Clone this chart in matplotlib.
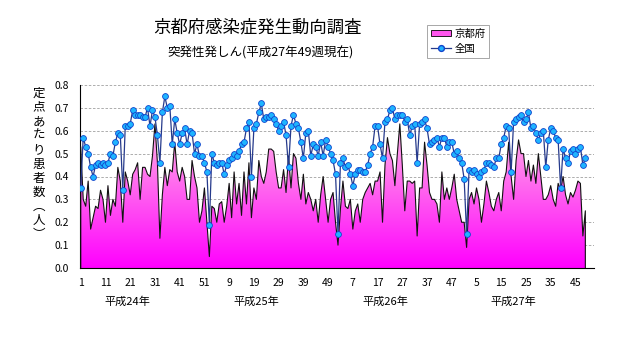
import numpy as np
import matplotlib
matplotlib.use("Agg")
import matplotlib.pyplot as plt
from matplotlib.colors import LinearSegmentedColormap
from matplotlib.patches import Patch
from matplotlib.lines import Line2D

plt.rcParams['font.family'] = ['Noto Sans CJK JP', 'DejaVu Sans']

title = "京都府感染症発生動向調査"
subtitle = "突発性発しん(平成27年49週現在)"
ylabel_chars = ["定", "点", "あ", "た", "り", "患", "者", "数", "︵", "人", "︶"]
series_names = ["京都府", "全国"]
year_labels = ["平成24年", "平成25年", "平成26年", "平成27年"]
weeks_per_year = [52, 52, 52, 49]
tick_labels = ['1', '11', '21', '31', '41', '51', '9', '19', '29', '39', '49',
               '7', '17', '27', '37', '47', '5', '15', '25', '35', '45']

national = [
    0.35, 0.57, 0.53, 0.50, 0.44, 0.40, 0.45, 0.46, 0.45, 0.46,
    0.45, 0.46, 0.50, 0.49, 0.55, 0.59, 0.58, 0.34, 0.62, 0.62,
    0.63, 0.69, 0.67, 0.67, 0.67, 0.66, 0.66, 0.70, 0.62, 0.69,
    0.66, 0.58, 0.46, 0.68, 0.75, 0.70, 0.71, 0.54, 0.65, 0.59,
    0.54, 0.59, 0.61, 0.54, 0.60, 0.59, 0.50, 0.54, 0.49, 0.49,
    0.46, 0.42, 0.19, 0.50, 0.46, 0.45, 0.46, 0.46, 0.41, 0.45,
    0.47, 0.48, 0.50, 0.49, 0.51, 0.54, 0.55, 0.61, 0.64, 0.40,
    0.61, 0.63, 0.68, 0.72, 0.65, 0.66, 0.66, 0.67, 0.65, 0.63,
    0.60, 0.62, 0.64, 0.58, 0.44, 0.62, 0.67, 0.63, 0.61, 0.55,
    0.48, 0.59, 0.60, 0.49, 0.54, 0.53, 0.49, 0.55, 0.49, 0.56,
    0.53, 0.50, 0.47, 0.41, 0.15, 0.46, 0.48, 0.44, 0.45, 0.41,
    0.36, 0.41, 0.43, 0.43, 0.42, 0.42, 0.45, 0.50, 0.53, 0.62,
    0.62, 0.54, 0.48, 0.64, 0.65, 0.69, 0.70, 0.65, 0.67, 0.67,
    0.67, 0.64, 0.65, 0.58, 0.62, 0.63, 0.46, 0.63, 0.64, 0.65,
    0.61, 0.54, 0.55, 0.56, 0.57, 0.53, 0.57, 0.57, 0.53, 0.55,
    0.55, 0.50, 0.51, 0.48, 0.46, 0.39, 0.15, 0.43, 0.42, 0.43,
    0.41, 0.40, 0.42, 0.43, 0.46, 0.46, 0.45, 0.44, 0.48, 0.48,
    0.54, 0.57, 0.62, 0.61, 0.42, 0.64, 0.65, 0.66, 0.67, 0.64,
    0.65, 0.68, 0.61, 0.62, 0.59, 0.56, 0.59, 0.60, 0.44, 0.56,
    0.61, 0.60, 0.57, 0.56, 0.35, 0.52, 0.48, 0.46, 0.51, 0.52,
    0.50, 0.52, 0.53, 0.45, 0.48,
]

kyoto = [
    0.53, 0.30, 0.27, 0.38, 0.17, 0.22, 0.27, 0.26, 0.34, 0.30,
    0.20, 0.36, 0.23, 0.30, 0.27, 0.44, 0.38, 0.20, 0.42, 0.38,
    0.32, 0.41, 0.43, 0.46, 0.30, 0.44, 0.44, 0.41, 0.40, 0.49,
    0.63, 0.46, 0.13, 0.32, 0.44, 0.36, 0.43, 0.42, 0.55, 0.42,
    0.38, 0.44, 0.40, 0.30, 0.30, 0.47, 0.40, 0.35, 0.20, 0.25,
    0.35, 0.20, 0.05, 0.27, 0.26, 0.20, 0.28, 0.29, 0.20, 0.27,
    0.37, 0.22, 0.42, 0.28, 0.37, 0.23, 0.42, 0.28, 0.46, 0.22,
    0.35, 0.30, 0.47, 0.40, 0.37, 0.42, 0.52, 0.52, 0.51, 0.42,
    0.35, 0.35, 0.43, 0.33, 0.49, 0.35, 0.50, 0.48, 0.37, 0.30,
    0.41, 0.28, 0.33, 0.30, 0.25, 0.30, 0.20, 0.32, 0.40, 0.30,
    0.20, 0.30, 0.33, 0.20, 0.10, 0.26, 0.38, 0.27, 0.26, 0.30,
    0.17, 0.25, 0.28, 0.20, 0.30, 0.33, 0.35, 0.37, 0.32, 0.38,
    0.38, 0.42, 0.20, 0.45, 0.57, 0.50, 0.47, 0.36, 0.50, 0.63,
    0.45, 0.25, 0.38, 0.38, 0.37, 0.38, 0.14, 0.35, 0.35, 0.55,
    0.45, 0.33, 0.30, 0.30, 0.28, 0.20, 0.42, 0.30, 0.35, 0.30,
    0.35, 0.41, 0.30, 0.25, 0.20, 0.20, 0.09, 0.30, 0.33, 0.28,
    0.35, 0.30, 0.20, 0.28, 0.38, 0.33, 0.27, 0.25, 0.30, 0.33,
    0.25, 0.38, 0.42, 0.55, 0.40, 0.30, 0.47, 0.56, 0.50, 0.50,
    0.40, 0.47, 0.38, 0.45, 0.37, 0.50, 0.40, 0.30, 0.30, 0.32,
    0.36, 0.30, 0.27, 0.37, 0.34, 0.40, 0.32, 0.28, 0.33, 0.31,
    0.34, 0.38, 0.37, 0.14, 0.25,
]

W, H = 631, 347
fig = plt.figure(figsize=(W / 100, H / 100), dpi=100)
fig.patch.set_facecolor('white')

L, R, T, B = 80, 594, 85, 268
ax = fig.add_axes([L / W, 1 - B / H, (R - L) / W, (B - T) / H])

x = np.arange(len(kyoto))
ky = np.array(kyoto)
na = np.array(national)

# gradient-filled area for Kyoto
poly = ax.fill_between(x, 0, ky, facecolor='none', edgecolor='none', zorder=2)
cmap = LinearSegmentedColormap.from_list('pk', ['#FF00FF', '#FF5CF0', '#FFB4E8'])
grad = np.linspace(0, 1, 256).reshape(-1, 1)
top = ky.max()
im = ax.imshow(grad, extent=[x[0], x[-1], 0, top], origin='lower', aspect='auto',
               cmap=cmap, zorder=2, interpolation='bilinear')
im.set_clip_path(poly.get_paths()[0], transform=ax.transData)

# outline of the area including vertical edges
ox = np.concatenate([[x[0]], x, [x[-1]]])
oy = np.concatenate([[0], ky, [0]])
ax.plot(ox, oy, color='#111111', lw=0.8, zorder=3)

# national line
ax.plot(x, na, color='#263A8C', lw=0.9, marker='o', markersize=4.2,
        markerfacecolor='#1EB4FF', markeredgecolor='#1144CC', markeredgewidth=0.6,
        zorder=4)

ax.set_xlim(-0.3, 207.5)
ax.set_ylim(0, 0.8)
ax.set_yticks(np.arange(0, 0.81, 0.1))
ax.set_yticklabels([f"{v:.1f}" for v in np.arange(0, 0.81, 0.1)])
ax.yaxis.grid(True, color='#A0A0A0', linestyle=(0, (3, 2)), linewidth=0.6)
ax.set_axisbelow(True)

for s in ['top', 'right']:
    ax.spines[s].set_visible(False)
ax.spines['left'].set_linewidth(0.8)
ax.spines['bottom'].set_linewidth(0.8)

ax.set_xticks(np.arange(0, len(x), 10))
ax.set_xticklabels(tick_labels)
ax.set_xticks(np.arange(5, len(x), 10), minor=True)
ax.tick_params(axis='x', which='both', direction='in', length=3, width=0.7,
               labelsize=7.5, pad=7)
ax.tick_params(axis='y', length=0, labelsize=7.5, pad=8)

# year labels
starts = np.cumsum([0] + weeks_per_year[:-1])
for s, lab in zip(starts, year_labels):
    ax.text(s + 19, -0.148, lab, ha='center', va='center', fontsize=8)

# titles
fig.text(257 / W, 1 - 28 / H, title, ha='center', va='center', fontsize=12.5)
fig.text(261 / W, 1 - 53 / H, subtitle, ha='center', va='center', fontsize=9)

# vertical y label
y0, step = 93, 14.2
for i, ch in enumerate(ylabel_chars):
    fig.text(39 / W, 1 - (y0 + i * step) / H, ch, ha='center', va='center', fontsize=9)

handles = [Patch(facecolor='#FF55EE', edgecolor='black', linewidth=0.6),
           Line2D([0], [0], color='#263A8C', lw=0.9, marker='o', markersize=4.2,
                  markerfacecolor='#1EB4FF', markeredgecolor='#1144CC')]
leg = fig.legend(handles, series_names, loc='upper left',
                 bbox_to_anchor=(427 / W, 1 - 25 / H), fontsize=7.5,
                 fancybox=False, frameon=True, edgecolor='#999999', framealpha=1,
                 handlelength=2.0, handleheight=0.6, handletextpad=0.3,
                 borderpad=0.35, labelspacing=0.5, borderaxespad=0)
leg.get_frame().set_linewidth(0.6)

fig.savefig('out.png', dpi=100)
